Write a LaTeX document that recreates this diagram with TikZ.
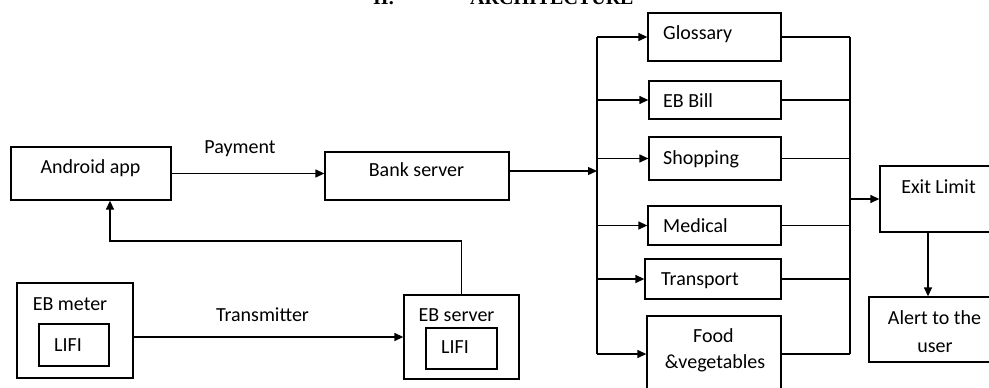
\documentclass[tikz,border=0pt]{standalone}
\usepackage{fontspec}
\setmainfont{Carlito}
\newfontfamily\titlefont{Liberation Serif}
\usetikzlibrary{arrows.meta}
\tikzset{
  box/.style={draw, line width=1.3pt, rectangle, inner sep=0pt},
  txt/.style={inner sep=0pt, font=\fontsize{20}{22}\selectfont},
  conn/.style={line width=1.3pt},
  arr/.style={line width=1.3pt, -{Triangle[length=9pt,width=8pt]}},
}
\begin{document}
\begin{tikzpicture}[x=1pt,y=-1pt]
\useasboundingbox (0,0) rectangle (989,388);
% title (cut at the top)
\node[inner sep=0pt, anchor=base west, font=\titlefont\bfseries\fontsize{20}{22}\selectfont] (title1) at (373,4.5) {II.};
\node[inner sep=0pt, anchor=base west, font=\titlefont\bfseries\fontsize{20}{22}\selectfont] (title2) at (470,4.5) {ARCHITECTURE};
% boxes
\node[box, minimum width=160pt, minimum height=53pt] (android) at (91,173.5) {};
\node[box, minimum width=184pt, minimum height=48pt] (bank) at (417,176) {};
\node[box, minimum width=133pt, minimum height=48pt] (glossary) at (714.5,37) {};
\node[box, minimum width=132pt, minimum height=38pt] (ebbill) at (715,100) {};
\node[box, minimum width=132pt, minimum height=43pt] (shopping) at (715,158.5) {};
\node[box, minimum width=133pt, minimum height=39pt] (medical) at (714.5,225.5) {};
\node[box, minimum width=136pt, minimum height=40pt] (transport) at (713,279) {};
\node[box, minimum width=134pt, minimum height=76pt] (food) at (714,354) {};
\node[box, minimum width=115pt, minimum height=66pt] (exit) at (937.5,199) {};
\node[box, minimum width=126pt, minimum height=65pt] (alert) at (932,329.5) {};
\node[box, minimum width=116pt, minimum height=95pt] (meter) at (75,330.5) {};
\node[box, minimum width=70pt, minimum height=42pt] (meterlifi) at (74,345) {};
\node[box, minimum width=115pt, minimum height=84pt] (server) at (461.5,337) {};
\node[box, minimum width=71pt, minimum height=41pt] (serverlifi) at (461.5,348.5) {};
% texts
\node[txt, anchor=base] (t-android) at (90.5,173) {Android app};
\node[txt, anchor=base] (t-payment) at (240,153) {Payment};
\node[txt, anchor=base] (t-bank) at (416.5,176) {Bank server};
\node[txt, anchor=base west] (t-glossary) at (663,39) {Glossary};
\node[txt, anchor=base west] (t-ebbill) at (663,107) {EB Bill};
\node[txt, anchor=base west] (t-shopping) at (663,164) {Shopping};
\node[txt, anchor=base west] (t-medical) at (663,232) {Medical};
\node[txt, anchor=base west] (t-transport) at (661,285) {Transport};
\node[txt, anchor=base] (t-food1) at (713.5,342) {Food};
\node[txt, anchor=base] (t-food2) at (715,368) {\&vegetables};
\node[txt, anchor=base] (t-exit) at (938.5,193) {Exit Limit};
\node[txt, anchor=base] (t-alert1) at (934.5,324) {Alert to the};
\node[txt, anchor=base] (t-alert2) at (935,352) {user};
\node[txt, anchor=base] (t-meter) at (70,310) {EB meter};
\node[txt, anchor=base] (t-meterlifi) at (68,351) {LIFI};
\node[txt, anchor=base] (t-transmitter) at (262.5,321) {Transmitter};
\node[txt, anchor=base] (t-server) at (456.5,321) {EB server};
\node[txt, anchor=base] (t-serverlifi) at (455,353) {LIFI};
% coordinates
\coordinate (lbus) at (597,171);
\coordinate (rbus) at (850,201);
\coordinate (fb) at (110,241);
% connectors
\draw[arr] (android.east) -- (android.east -| bank.west);
\draw[arr] (bank.east |- lbus) -- (lbus);
\draw[conn] (glossary.west -| lbus) -- (food.west -| lbus);
\foreach \n in {glossary,ebbill,shopping,medical,transport,food}
  \draw[arr] (\n.west -| lbus) -- (\n.west);
\foreach \n in {glossary,ebbill,shopping,medical,transport,food}
  \draw[conn] (\n.east) -- (\n.east -| rbus);
\draw[conn] (glossary.east -| rbus) -- (food.east -| rbus);
\draw[arr] (exit.west -| rbus) -- (exit.west);
\draw[arr] ([xshift=-9.5pt]exit.south) -- ([xshift=-9.5pt]exit.south |- alert.north);
\draw[arr] (meter.east |- server.west) -- (server.west);
\draw[arr] (server.north) |- (fb) -- (fb |- android.south);
\end{tikzpicture}
\end{document}
